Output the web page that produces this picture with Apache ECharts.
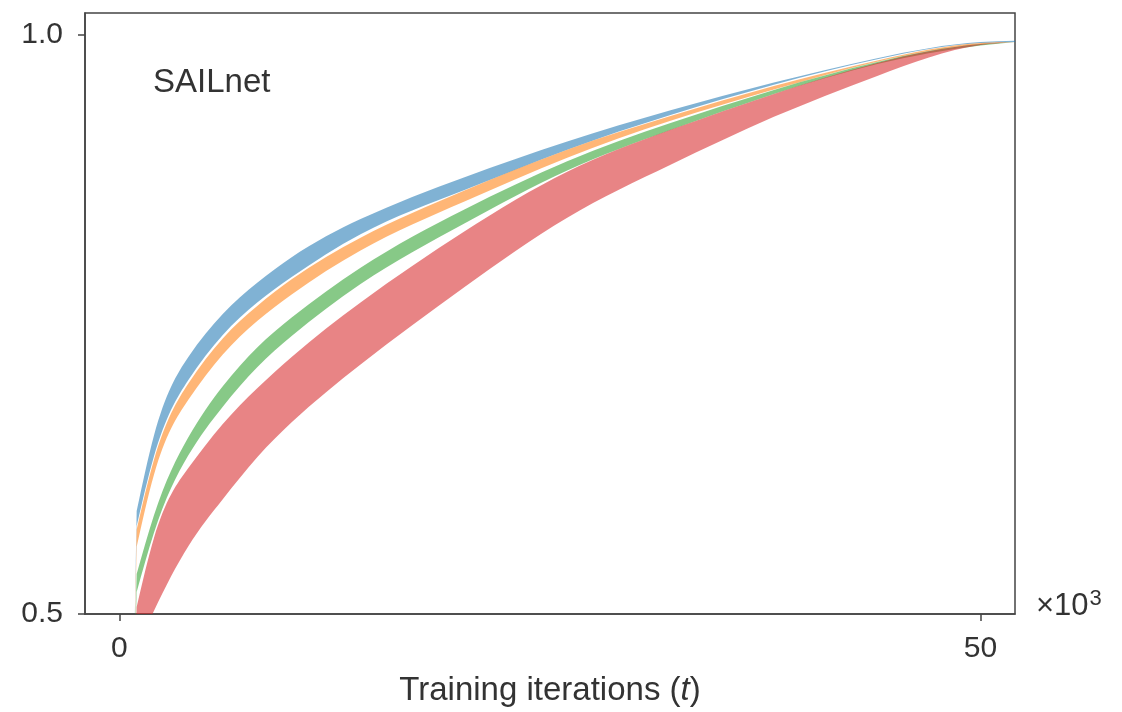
<!DOCTYPE html>
<html>
<head>
<meta charset="utf-8">
<title>SAILnet</title>
<script src="https://cdn.jsdelivr.net/npm/echarts@6/dist/echarts.min.js"></script>
<style>
  html, body { margin: 0; padding: 0; background: #fff; }
  #chart { width: 1122px; height: 712px; }
</style>
</head>
<body>
<div id="chart"></div>
<script>
// Training iterations (thousands)
const iterations = [0.8, 1, 2, 4, 6, 8, 10, 14, 20, 26, 32, 38, 44, 50, 52];

// Lower / upper bounds of each band
const blueLower   = [0.42, 0.576, 0.636, 0.702, 0.741, 0.769, 0.791, 0.828, 0.866, 0.901, 0.931, 0.957, 0.979, 0.993, 0.994];
const blueUpper   = [0.42, 0.589, 0.654, 0.722, 0.759, 0.786, 0.808, 0.841, 0.877, 0.908, 0.935, 0.959, 0.980, 0.994, 0.995];
const orangeLower = [0.42, 0.558, 0.620, 0.685, 0.724, 0.753, 0.776, 0.814, 0.856, 0.894, 0.926, 0.953, 0.977, 0.992, 0.994];
const orangeUpper = [0.42, 0.573, 0.633, 0.699, 0.738, 0.766, 0.789, 0.825, 0.8655, 0.901, 0.930, 0.956, 0.978, 0.993, 0.994];
const greenLower  = [0.42, 0.519, 0.570, 0.637, 0.679, 0.713, 0.740, 0.785, 0.837, 0.883, 0.918, 0.949, 0.975, 0.991, 0.994];
const greenUpper  = [0.42, 0.5345, 0.585, 0.6526, 0.6966, 0.7302, 0.756, 0.7991, 0.8491, 0.891, 0.924, 0.9526, 0.9767, 0.9922, 0.994];
const redLower    = [0.40, 0.470, 0.5026, 0.5586, 0.5991, 0.6353, 0.6655, 0.7155, 0.7819, 0.8422, 0.8879, 0.9293, 0.9647, 0.9914, 0.994];
const redUpper    = [0.42, 0.506, 0.5655, 0.626, 0.664, 0.695, 0.722, 0.769, 0.830, 0.8819, 0.9181, 0.9491, 0.9759, 0.9922, 0.994];

// Axis ticks
const xTicks = [0, 50];
const yTicks = [0.5, 1.0];

const bands = [
  { lower: blueLower,   upper: blueUpper,   color: 'rgba(31,119,180,0.57)' },
  { lower: orangeLower, upper: orangeUpper, color: 'rgba(255,127,14,0.57)' },
  { lower: greenLower,  upper: greenUpper,  color: 'rgba(44,160,44,0.57)' },
  { lower: redLower,    upper: redUpper,    color: 'rgba(214,39,40,0.57)' }
];

// Node slopes of a natural cubic spline through pixel points (x increasing)
function splineSlopes(p) {
  const n = p.length - 1;
  const h = [], r = [];
  for (let i = 0; i < n; i++) {
    h.push(p[i + 1][0] - p[i][0]);
    r.push((p[i + 1][1] - p[i][1]) / h[i]);
  }
  const M = new Array(n + 1).fill(0);
  if (n >= 2) {
    const a = [], b = [], c = [], d = [];
    for (let i = 1; i < n; i++) {
      a.push(h[i - 1]); b.push(2 * (h[i - 1] + h[i])); c.push(h[i]);
      d.push(6 * (r[i] - r[i - 1]));
    }
    const m = b.length;
    for (let i = 1; i < m; i++) {
      const w = a[i] / b[i - 1];
      b[i] -= w * c[i - 1];
      d[i] -= w * d[i - 1];
    }
    const sol = new Array(m);
    sol[m - 1] = d[m - 1] / b[m - 1];
    for (let i = m - 2; i >= 0; i--) sol[i] = (d[i] - c[i] * sol[i + 1]) / b[i];
    for (let i = 1; i < n; i++) M[i] = sol[i - 1];
  }
  const s = [];
  for (let i = 0; i < n; i++) s.push(r[i] - h[i] * (2 * M[i] + M[i + 1]) / 6);
  s.push(r[n - 1] + h[n - 1] * (M[n - 1] + 2 * M[n]) / 6);
  return s;
}

function curve(p, s, reverse) {
  let d = '';
  const n = p.length;
  if (!reverse) {
    for (let i = 0; i < n - 1; i++) {
      const k = (p[i + 1][0] - p[i][0]) / 3;
      d += ' C' + (p[i][0] + k) + ',' + (p[i][1] + k * s[i]) + ' ' +
           (p[i + 1][0] - k) + ',' + (p[i + 1][1] - k * s[i + 1]) + ' ' +
           p[i + 1][0] + ',' + p[i + 1][1];
    }
  } else {
    for (let i = n - 1; i > 0; i--) {
      const k = (p[i][0] - p[i - 1][0]) / 3;
      d += ' C' + (p[i][0] - k) + ',' + (p[i][1] - k * s[i]) + ' ' +
           (p[i - 1][0] + k) + ',' + (p[i - 1][1] + k * s[i - 1]) + ' ' +
           p[i - 1][0] + ',' + p[i - 1][1];
    }
  }
  return d;
}

// One filled band: a straight rise from the first sample, then a smooth curve
function renderBand(params, api) {
  const b = bands[params.dataIndex];
  const up = iterations.map((x, i) => api.coord([x, b.upper[i]]));
  const lo = iterations.map((x, i) => api.coord([x, b.lower[i]]));
  const upC = up.slice(1), loC = lo.slice(1);
  const su = splineSlopes(upC), sl = splineSlopes(loC);
  let d = 'M' + up[0][0] + ',' + up[0][1];
  d += ' L' + upC[0][0] + ',' + upC[0][1];
  d += curve(upC, su, false);
  d += ' L' + loC[loC.length - 1][0] + ',' + loC[loC.length - 1][1];
  d += curve(loC, sl, true);
  d += ' L' + lo[0][0] + ',' + lo[0][1] + ' Z';
  return {
    type: 'path',
    shape: { pathData: d },
    style: { fill: b.color, stroke: null }
  };
}

const axisColor = '#444';
const textColor = '#333';
const font = '"Liberation Sans", Arial, Helvetica, sans-serif';

const chart = echarts.init(document.getElementById('chart'), null, { renderer: 'canvas' });
chart.setOption({
  animation: false,
  backgroundColor: '#fff',
  grid: {
    left: 85, right: 107, top: 13, bottom: 97,
    show: true, borderColor: axisColor, borderWidth: 1.5, backgroundColor: 'transparent'
  },
  xAxis: {
    type: 'value', min: -2, max: 52,
    splitLine: { show: false },
    axisLine: { show: true, onZero: false, lineStyle: { color: axisColor, width: 1.5 } },
    axisTick: { show: true, length: 7, lineStyle: { color: axisColor, width: 1.5 }, customValues: xTicks },
    axisLabel: {
      customValues: xTicks, color: textColor, fontSize: 30, fontFamily: font, margin: 20
    },
    name: 'Training iterations ({i|t})',
    nameLocation: 'middle', nameGap: 60,
    nameTextStyle: {
      color: textColor, fontSize: 33, fontFamily: font, verticalAlign: 'top',
      rich: { i: { fontStyle: 'italic', fontSize: 33, fontFamily: font, color: textColor } }
    }
  },
  yAxis: {
    type: 'value', min: 0.5, max: 1.019,
    splitLine: { show: false },
    axisLine: { show: true, onZero: false, lineStyle: { color: axisColor, width: 1.5 } },
    axisTick: { show: true, length: 7, lineStyle: { color: axisColor, width: 1.5 }, customValues: yTicks },
    axisLabel: {
      customValues: yTicks, color: textColor, fontSize: 30, fontFamily: font, margin: 22,
      formatter: v => v.toFixed(1)
    }
  },
  graphic: [
    {
      type: 'text', left: 153, top: 66, z: 100,
      style: { text: 'SAILnet', fill: textColor, font: '33px ' + font }
    },
    {
      type: 'text', left: 1036, top: 588, z: 100,
      style: {
        text: '×10{s|3}', fill: textColor, font: '31px ' + font,
        rich: { s: { fontSize: 22, fontFamily: font, fill: textColor, verticalAlign: 'top', padding: [0, 0, 14, 1] } }
      }
    }
  ],
  series: [{
    type: 'custom',
    coordinateSystem: 'cartesian2d',
    clip: true,
    silent: true,
    renderItem: renderBand,
    data: bands.map((b, i) => [i]),
    encode: { x: 0 }
  }]
});
</script>
</body>
</html>
